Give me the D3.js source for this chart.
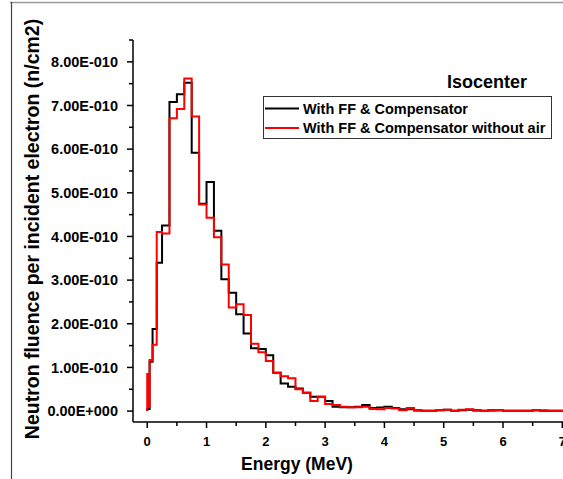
<!DOCTYPE html>
<html>
<head>
<meta charset="utf-8">
<script src="https://cdn.jsdelivr.net/npm/d3@7"></script>
<style>
  html, body { margin: 0; padding: 0; background: #fff; }
  svg { display: block; font-family: "Liberation Sans", Arial, sans-serif; font-weight: bold; }
</style>
</head>
<body>
<div id="chart"></div>
<script>
// bin edges in MeV (first bins are narrow near zero)
const binEdges = [0, 0.01, 0.04, 0.09, 0.16, 0.25, 0.375, 0.5, 0.625, 0.75, 0.875,
  1.0, 1.125, 1.25, 1.375, 1.5, 1.625, 1.75, 1.875, 2.0, 2.125, 2.25, 2.375, 2.5,
  2.625, 2.75, 2.875, 3.0, 3.125, 3.25, 3.375, 3.5, 3.625, 3.75, 3.875, 4.0, 4.125,
  4.25, 4.375, 4.5, 4.625, 4.75, 4.875, 5.0, 5.125, 5.25, 5.375, 5.5, 5.625, 5.75,
  5.875, 6.0, 6.125, 6.25, 6.375, 6.5, 6.625, 6.75, 6.875, 7.0, 7.125];

// fluence per bin, in units of 1e-10 n/cm2
const withComp = [0.05, 0.05, 1.13, 1.88, 3.40, 4.25, 7.08, 7.26, 7.52, 5.92, 4.75,
  5.25, 4.13, 3.02, 2.71, 2.22, 1.78, 1.44, 1.42, 1.28, 0.88, 0.63, 0.56, 0.52,
  0.42, 0.33, 0.33, 0.23, 0.10, 0.09, 0.09, 0.10, 0.14, 0.07, 0.08, 0.10, 0.07,
  0.04, 0.04, 0.02, 0.01, 0.01, 0.02, 0.03, 0.01, 0.02, 0.03, 0.02, 0.01, 0.02,
  0.02, 0.01, 0.01, 0.01, 0.01, 0.02, 0.01, 0.01, 0.01, 0.01];
const withCompNoAir = [0.85, 0.10, 1.17, 1.52, 4.10, 4.07, 6.71, 6.92, 7.62, 6.75, 4.73,
  4.43, 3.98, 3.36, 2.37, 2.45, 2.20, 1.54, 1.35, 1.15, 0.88, 0.80, 0.75, 0.50,
  0.42, 0.23, 0.33, 0.16, 0.14, 0.10, 0.09, 0.09, 0.10, 0.05, 0.04, 0.07, 0.06,
  0.02, 0.07, 0.01, 0.01, 0.01, 0.02, 0.03, 0.01, 0.03, 0.04, 0.01, 0.01, 0.01,
  0.02, 0.01, 0.01, 0.01, 0.01, 0.02, 0.02, 0.01, 0.01, 0.01];

const xTicks = [0, 1, 2, 3, 4, 5, 6, 7];
const yTicks = [0, 1, 2, 3, 4, 5, 6, 7, 8];
const seriesNames = ["With FF & Compensator", "With FF & Compensator without air"];
const seriesColors = ["#000000", "#ff0000"];

const W = 563, H = 479;

const x = d3.scaleLinear().domain([-0.24, 7]).range([133, 562.3]);
const y = d3.scaleLinear().domain([-0.25, 8.5]).range([422, 40]);

const svg = d3.select('#chart').append('svg')
  .attr('width', W).attr('height', H);

// outer frame (top + left edges visible in the picture)
svg.append('line').attr('x1', 10).attr('x2', W).attr('y1', 2.5).attr('y2', 2.5)
  .attr('stroke', '#999').attr('stroke-width', 1.5);
svg.append('line').attr('x1', 11.5).attr('x2', 11.5).attr('y1', 2).attr('y2', H)
  .attr('stroke', '#444').attr('stroke-width', 1.2);

// step outlines
function stepPoints(vals) {
  const pts = [[binEdges[0], 0]];
  vals.forEach((v, i) => {
    pts.push([binEdges[i], v]);
    pts.push([binEdges[i + 1], v]);
  });
  return pts;
}
const line = d3.line().x(d => x(d[0])).y(d => y(d[1]));

[withComp, withCompNoAir].forEach((vals, i) => {
  svg.append('path')
    .datum(stepPoints(vals))
    .attr('fill', 'none')
    .attr('stroke', seriesColors[i])
    .attr('stroke-width', 2)
    .attr('stroke-linejoin', 'miter')
    .attr('d', line);
});

// axes
const yMinor = d3.range(0.5, 8.51, 1);
const yAxis = svg.append('g').attr('transform', `translate(${x(-0.24)},0)`);
yAxis.append('line').attr('y1', y(8.5)).attr('y2', y(-0.25))
  .attr('stroke', '#000').attr('stroke-width', 1.5);
yAxis.selectAll('.maj').data(yTicks).join('line')
  .attr('x1', -6).attr('x2', 0).attr('y1', d => y(d)).attr('y2', d => y(d))
  .attr('stroke', '#000').attr('stroke-width', 1.5);
yAxis.selectAll('.min').data(yMinor).join('line')
  .attr('x1', -4).attr('x2', 0).attr('y1', d => y(d)).attr('y2', d => y(d))
  .attr('stroke', '#000').attr('stroke-width', 1.5);
yAxis.selectAll('text').data(yTicks).join('text')
  .attr('x', -15).attr('y', d => y(d)).attr('dy', '0.36em')
  .attr('text-anchor', 'end').attr('font-size', 14.5)
  .text(d => d.toFixed(2) + (d === 0 ? 'E+000' : 'E-010'));

const xMinor = d3.range(0.5, 7, 1);
const xAxis = svg.append('g').attr('transform', `translate(0,${y(-0.25)})`);
xAxis.append('line').attr('x1', x(-0.24)).attr('x2', W)
  .attr('stroke', '#000').attr('stroke-width', 1.5);
xAxis.selectAll('.maj').data(xTicks).join('line')
  .attr('x1', d => x(d)).attr('x2', d => x(d)).attr('y1', 0).attr('y2', 6)
  .attr('stroke', '#000').attr('stroke-width', 1.5);
xAxis.selectAll('.min').data(xMinor).join('line')
  .attr('x1', d => x(d)).attr('x2', d => x(d)).attr('y1', 0).attr('y2', 4)
  .attr('stroke', '#000').attr('stroke-width', 1.5);
xAxis.selectAll('text').data(xTicks).join('text')
  .attr('x', d => x(d)).attr('y', 24)
  .attr('text-anchor', 'middle').attr('font-size', 13)
  .text(d => d);

// axis titles
svg.append('text')
  .attr('x', 297).attr('y', 470)
  .attr('text-anchor', 'middle').attr('font-size', 17.5)
  .text('Energy (MeV)');
svg.append('text')
  .attr('transform', 'translate(38.5,229) rotate(-90)')
  .attr('text-anchor', 'middle').attr('font-size', 19.5)
  .text('Neutron fluence per incident electron (n/cm2)');

// legend
svg.append('text')
  .attr('x', 447).attr('y', 88).attr('font-size', 18)
  .text('Isocenter');
svg.append('rect')
  .attr('x', 263.5).attr('y', 96.5).attr('width', 288).attr('height', 42)
  .attr('fill', 'none').attr('stroke', '#333').attr('stroke-width', 1);
const leg = svg.append('g');
seriesNames.forEach((name, i) => {
  const ly = 108.5 + i * 19.5;
  leg.append('line').attr('x1', 265).attr('x2', 299).attr('y1', ly).attr('y2', ly)
    .attr('stroke', seriesColors[i]).attr('stroke-width', 2);
  leg.append('text').attr('x', 303).attr('y', ly + 5)
    .attr('font-size', 14.5).text(name);
});
</script>
</body>
</html>
